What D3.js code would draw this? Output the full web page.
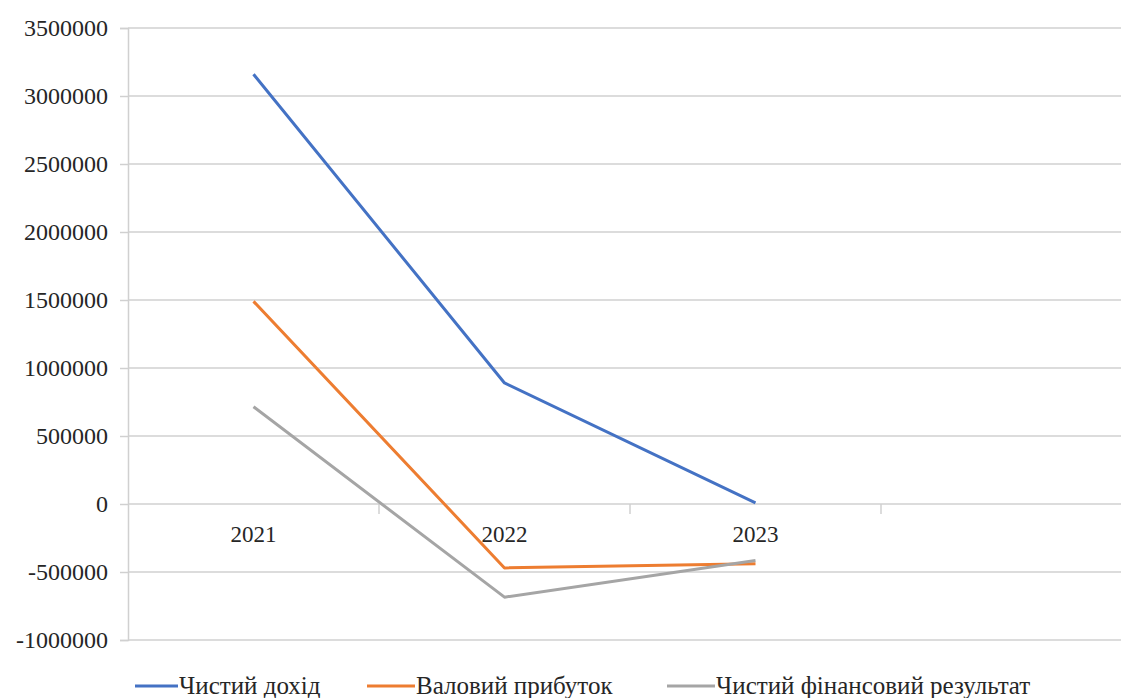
<!DOCTYPE html>
<html>
<head>
<meta charset="utf-8">
<script src="https://cdn.jsdelivr.net/npm/d3@7"></script>
<style>
  html, body { margin: 0; padding: 0; background: #fff; }
  svg { display: block; }
</style>
</head>
<body>
<svg id="chart" width="1121" height="698"></svg>
<script>
// Years on the category axis (the fourth slot is left empty)
const years = ["2021", "2022", "2023", ""];
const yTicks = [-1000000, -500000, 0, 500000, 1000000, 1500000, 2000000, 2500000, 3000000, 3500000];

// Series values
const netIncome = [3160000, 890000, 8000];
const grossProfit = [1490000, -470000, -440000];
const netResult = [715000, -685000, -415000];

const seriesNames = ["Чистий дохід", "Валовий прибуток", "Чистий фінансовий результат"];
const seriesColors = ["#4472C4", "#ED7D31", "#A5A5A5"];

const series = [netIncome, grossProfit, netResult].map((values, i) => ({
  name: seriesNames[i], color: seriesColors[i], values
}));

const FONT = "'Liberation Serif', 'Times New Roman', Tinos, 'Noto Serif', 'DejaVu Serif', serif";
const TEXT = "#262626";

const svg = d3.select("#chart");
const left = 128, bandW = 251;
const x = d3.scaleBand().domain(years).range([left, left + bandW * years.length]).paddingInner(0).paddingOuter(0);
const y = d3.scaleLinear().domain([-1000000, 3500000]).range([640, 28]);
const rightEdge = 1121;

// Horizontal gridlines
svg.append("g").selectAll("line").data(yTicks).join("line")
  .attr("x1", left).attr("x2", rightEdge)
  .attr("y1", d => y(d)).attr("y2", d => y(d))
  .attr("stroke", "#d0d0d0").attr("stroke-width", 1.5);

// Value axis
const yAxis = svg.append("g").attr("transform", `translate(${left},0)`)
  .call(d3.axisLeft(y).tickValues(yTicks).tickSize(8).tickPadding(12).tickFormat(d => String(d)));
yAxis.attr("font-family", null).attr("font-size", null);
yAxis.select(".domain").attr("stroke", "#d0d0d0").attr("stroke-width", 1.5);
yAxis.selectAll(".tick line").attr("stroke", "#d0d0d0").attr("stroke-width", 1.5);
yAxis.selectAll(".tick text")
  .attr("font-family", FONT).attr("font-size", 24).attr("fill", TEXT);

// Category ticks and labels on the zero line
const zeroY = y(0);
const bounds = years.map((d, i) => left + bandW * (i + 1));
svg.append("g").selectAll("line").data(bounds).join("line")
  .attr("x1", d => d).attr("x2", d => d)
  .attr("y1", zeroY).attr("y2", zeroY + 10)
  .attr("stroke", "#d0d0d0").attr("stroke-width", 1.5);

svg.append("g").selectAll("text").data(years.filter(d => d)).join("text")
  .attr("x", d => x(d) + x.bandwidth() / 2)
  .attr("y", zeroY + 38)
  .attr("text-anchor", "middle")
  .attr("font-family", FONT).attr("font-size", 23).attr("fill", TEXT)
  .text(d => d);

// Lines
const line = d3.line()
  .x((d, i) => x(years[i]) + x.bandwidth() / 2)
  .y(d => y(d));

svg.append("g").selectAll("path").data(series).join("path")
  .attr("d", d => line(d.values))
  .attr("fill", "none")
  .attr("stroke", d => d.color)
  .attr("stroke-width", 3)
  .attr("stroke-linejoin", "round");

// Legend
const legendY = 686;
const legendItems = [
  { x: 135, w: 43 },
  { x: 367, w: 48 },
  { x: 667, w: 48 }
];
const legend = svg.append("g");
series.forEach((s, i) => {
  const it = legendItems[i];
  legend.append("line")
    .attr("x1", it.x).attr("x2", it.x + it.w)
    .attr("y1", legendY).attr("y2", legendY)
    .attr("stroke", s.color).attr("stroke-width", 3);
  legend.append("text")
    .attr("x", it.x + it.w + 1).attr("y", legendY + 8)
    .attr("font-family", FONT).attr("font-size", 25).attr("fill", TEXT)
    .text(s.name);
});
</script>
</body>
</html>
